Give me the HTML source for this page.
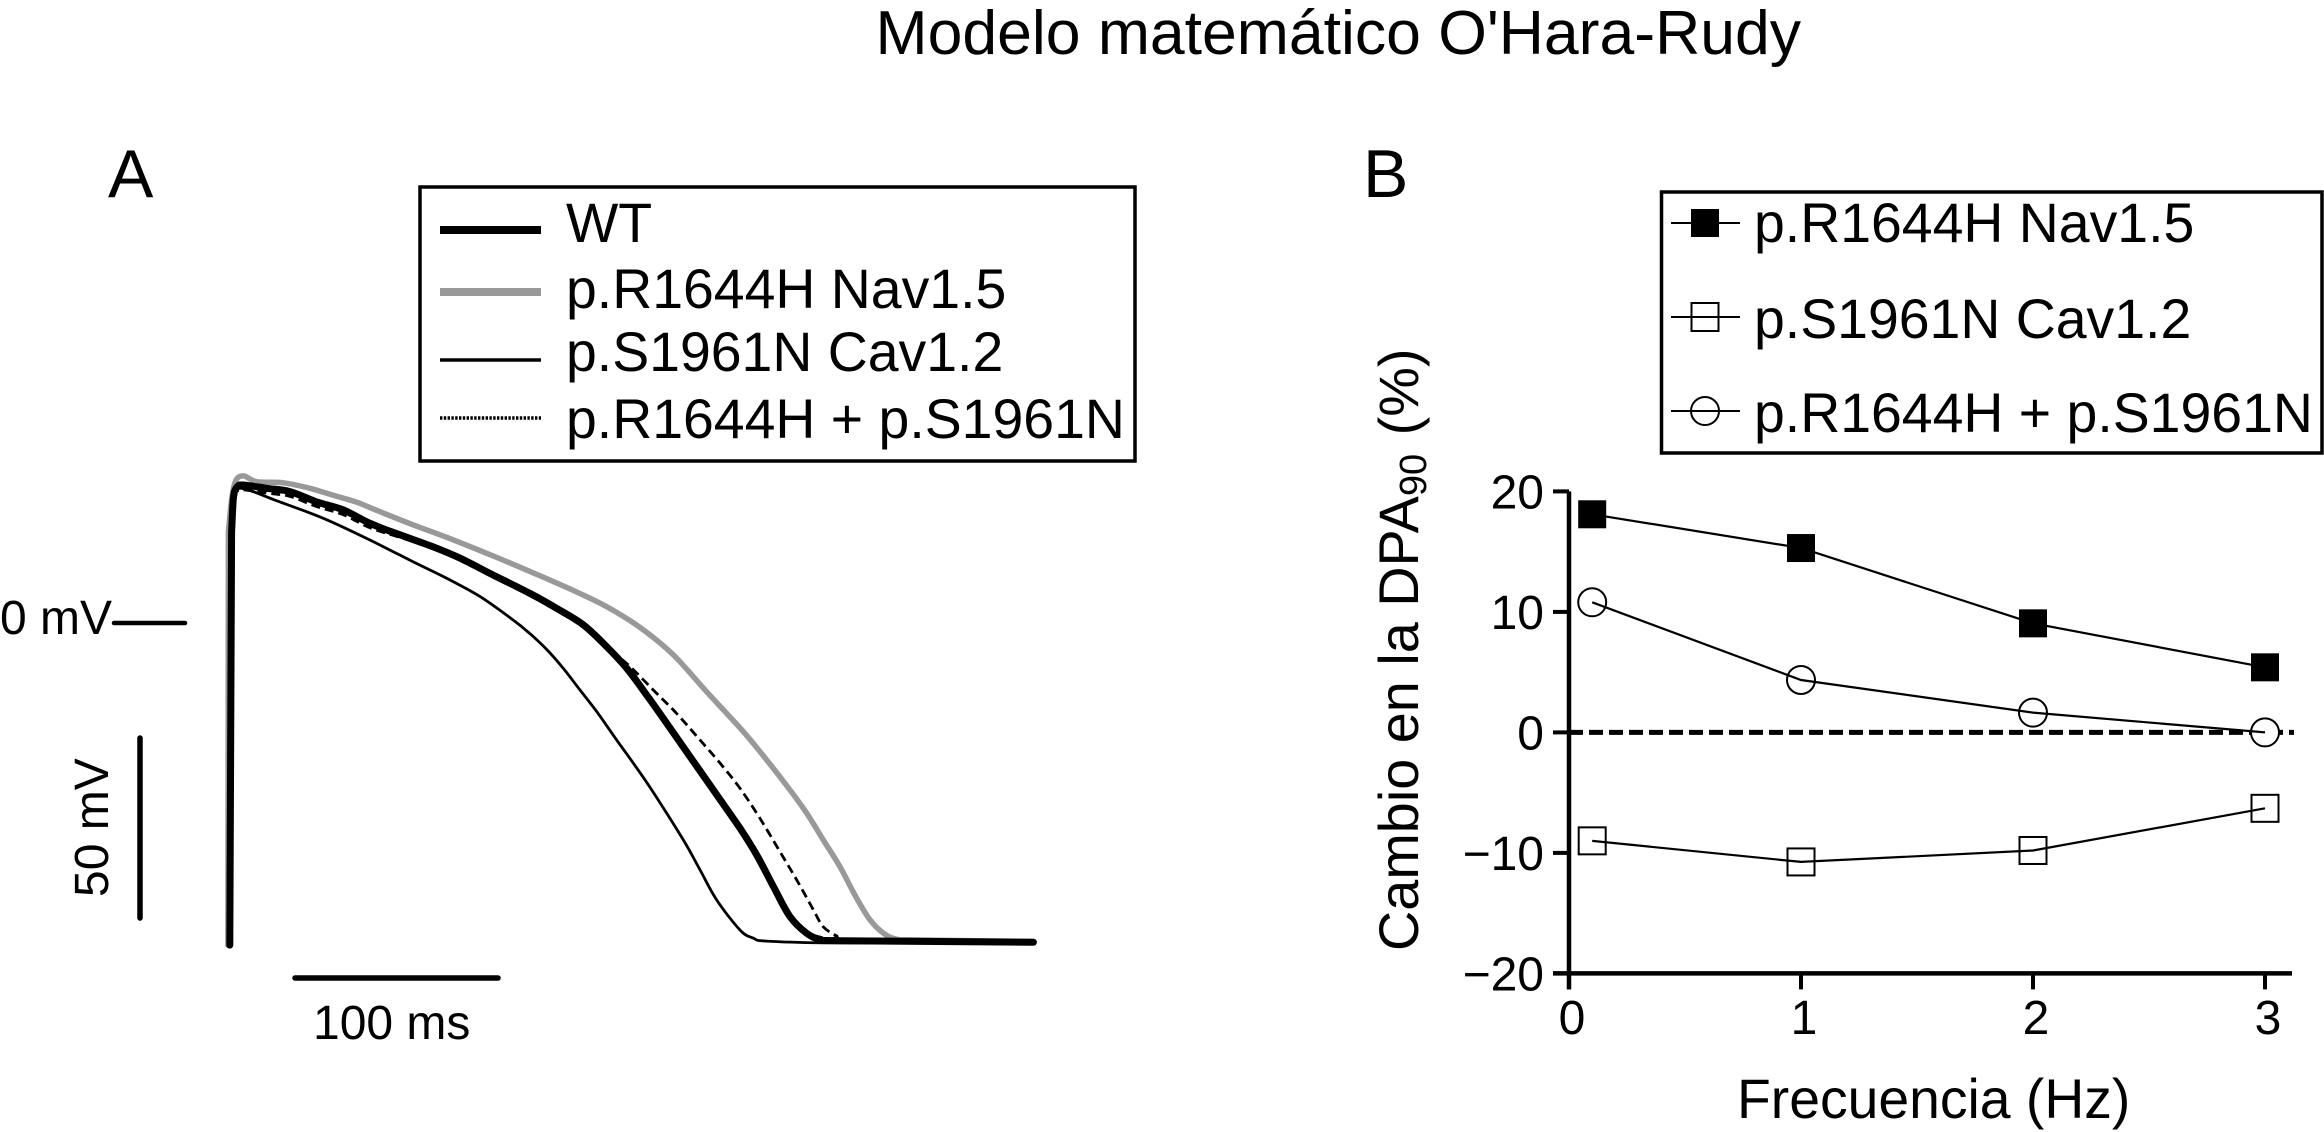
<!DOCTYPE html>
<html lang="es">
<head>
<meta charset="utf-8">
<title>Modelo matemático O'Hara-Rudy</title>
<style>
  html, body { margin: 0; padding: 0; background: #fff; }
  body { width: 2324px; height: 1132px; overflow: hidden; }
  svg { display: block; }
  text { font-family: "Liberation Sans", Arial, sans-serif; fill: #000; }
</style>
</head>
<body>
<svg id="figure" xmlns="http://www.w3.org/2000/svg" width="2324" height="1132" viewBox="0 0 2324 1132">
  <rect x="0" y="0" width="2324" height="1132" fill="#ffffff"/>
  <text x="875.5" y="54" font-size="62.5">Modelo matemático O'Hara-Rudy</text>
  <text x="108" y="197" font-size="68">A</text>
  <text x="1363" y="197" font-size="68">B</text>

  <g id="panel-a"></g>

  <g>
    <text x="0" y="634" font-size="48">0 mV</text>
    <line x1="114" y1="623" x2="185" y2="623" stroke="#000" stroke-width="4.5" stroke-linecap="round"/>
    <line x1="140" y1="738" x2="140" y2="918" stroke="#000" stroke-width="5.5" stroke-linecap="round"/>
    <text transform="translate(108 897) rotate(-90)" font-size="48">50 mV</text>
    <line x1="295" y1="978" x2="498" y2="978" stroke="#000" stroke-width="5.5" stroke-linecap="round"/>
    <text x="313" y="1039" font-size="48">100 ms</text>
  </g>

  <g>
    <rect x="420" y="187" width="715" height="274" fill="#fff" stroke="#000" stroke-width="3.5"/>
    <line x1="440" y1="230" x2="541" y2="230" stroke="#000" stroke-width="8"/>
    <text x="566" y="242" font-size="55.4">WT</text>
    <line x1="440" y1="292" x2="541" y2="292" stroke="#999" stroke-width="8"/>
    <text x="566" y="308" font-size="55.4">p.R1644H Nav1.5</text>
    <line x1="440" y1="360" x2="541" y2="360" stroke="#000" stroke-width="3.5"/>
    <text x="566" y="371" font-size="55.4">p.S1961N Cav1.2</text>
    <line x1="440" y1="418" x2="541" y2="418" stroke="#000" stroke-width="3.5" stroke-dasharray="2.4 1.4"/>
    <text x="566" y="438" font-size="55.4">p.R1644H + p.S1961N</text>
  </g>

  <g>
    <rect x="1661.5" y="192" width="660.5" height="261" fill="#fff" stroke="#000" stroke-width="3.5"/>
    <rect x="1691" y="209" width="28" height="28" fill="#000"/>
    <line x1="1671" y1="223" x2="1740" y2="223" stroke="#000" stroke-width="2"/>
    <text x="1754" y="242" font-size="55.4">p.R1644H Nav1.5</text>
    <rect x="1691.5" y="303" width="27" height="28" fill="#fff" stroke="#000" stroke-width="2"/>
    <line x1="1671" y1="317" x2="1740" y2="317" stroke="#000" stroke-width="2"/>
    <text x="1754" y="338" font-size="55.4">p.S1961N Cav1.2</text>
    <circle cx="1705" cy="411" r="14" fill="#fff" stroke="#000" stroke-width="2"/>
    <line x1="1671" y1="411" x2="1740" y2="411" stroke="#000" stroke-width="2"/>
    <text x="1754" y="432" font-size="55.4">p.R1644H + p.S1961N</text>
  </g>

  <g id="panel-b"></g>

  <text x="1737" y="1118" font-size="55.3">Frecuencia (Hz)</text>
  <text transform="translate(1418 951) rotate(-90)" font-size="55.8">Cambio en la DPA<tspan font-size="38" dy="8">90</tspan><tspan dy="-8" dx="3"> (%)</tspan></text>
</svg>

<script>
// Panel A: action potentials (time in ms, voltage in mV)
var navTimes = [-1, -0.8, 0.7, 2.6, 6.5, 13, 25.9, 38.8, 50.1, 61.5, 72.8, 89, 108.4, 127.8, 147.2, 166.6, 183, 199, 215.2, 231.4, 249.2, 260.5, 271.8, 280, 288, 296.1, 304.2, 310.7, 317.1, 323.6, 335, 390];
var navVolts = [-88, 25, 33.3, 38.7, 40.2, 38.6, 38.3, 36.8, 34.9, 33, 30.4, 26.8, 22.7, 18.3, 13.7, 8.9, 4.4, -1.2, -8.7, -18.8, -29.7, -37.4, -45.6, -52, -59.3, -66.6, -75.2, -81.1, -84.7, -86.4, -86.6, -87];
var wtTimes = [-0.1, 0.8, 1.7, 3.5, 6.5, 17.8, 29.1, 42.1, 55, 68, 82.5, 98.7, 111.7, 127.8, 145.6, 158.6, 171.5, 182.9, 192.6, 202.3, 212, 223.3, 234.6, 247.6, 255.7, 263.8, 271.8, 280, 286.4, 296.1, 390];
var wtVolts = [-88, 25, 34.4, 37.2, 37.7, 36.8, 35.9, 33.1, 30.9, 27.2, 24.1, 20.8, 17.7, 13.1, 8.1, 4, -0.5, -6.5, -12.4, -19.7, -27.4, -36.5, -45.6, -56.1, -63.4, -72, -80.2, -84.8, -86.4, -86.8, -87.2];
var combinedTimes = [-0.1, 0.8, 1.7, 3.5, 6.5, 17.8, 29.1, 42.1, 55, 68, 82.5, 98.7, 111.7, 127.8, 145.6, 158.6, 171.5, 182.9, 194.2, 205.5, 216.8, 228.2, 237.9, 247.6, 257.3, 267, 275.1, 283.2, 288, 294.5, 301, 390];
var combinedVolts = [-88, 25, 34, 36, 36.4, 35.5, 34.6, 31.8, 29.6, 26, 23.4, 20.5, 17.7, 13.1, 8.1, 4, -0.5, -6.5, -11.9, -18.3, -24.7, -32, -38.3, -45.2, -53.4, -62.5, -70.2, -78.4, -83, -85.5, -86.8, -87.2];
var cavTimes = [0, 0.9, 2.6, 5.7, 22.7, 45.3, 66.4, 89, 105.2, 121.4, 137.5, 145.6, 153.7, 161.8, 169.9, 178, 187.7, 195.8, 204.7, 220.1, 228.2, 236.3, 247.6, 254, 260.5, 292.8, 390];
var cavVolts = [-88, 25, 34.4, 36.8, 33.4, 28.6, 23.1, 16.7, 12.2, 7.2, 0.8, -2.9, -7.2, -12.4, -18.3, -24.2, -32, -38.3, -45.6, -59.3, -67.5, -75.7, -83.9, -86.1, -86.9, -87.4, -87.4];

// Panel B: change in APD90 (%) against pacing frequency (Hz)
var frequencies = [0.1, 1, 2, 3];
var navChange = [18.1, 15.3, 9.05, 5.4];
var cavChange = [-9, -10.75, -9.8, -6.3];
var combinedChange = [10.8, 4.35, 1.64, 0];
var yTickValues = [20, 10, 0, -10, -20];
var yTickLabels = ['20', '10', '0', '\u221210', '\u221220'];
var xTickValues = [0, 1, 2, 3];
var xTickLabels = ['0', '1', '2', '3'];

var SVG_NS = 'http://www.w3.org/2000/svg';

function timeToX(t) { return 230 + 2.06 * t; }
function voltToY(v) { return 623 - 3.66 * v; }
function freqToX(f) { return 1569 + 232 * f; }
function changeToY(c) { return 732.4 - 12.05 * c; }

function make(tag, attrs) {
  var el = document.createElementNS(SVG_NS, tag);
  Object.keys(attrs).forEach(function (k) { el.setAttribute(k, attrs[k]); });
  return el;
}

function pointsFrom(xs, ys, fx, fy) {
  return xs.map(function (x, i) { return fx(x).toFixed(1) + ',' + fy(ys[i]).toFixed(1); }).join(' ');
}

// Straight upstroke, then a smooth spline through the read values.
function smoothPath(times, volts) {
  var px = times.map(timeToX);
  var py = volts.map(voltToY);
  var d = 'M' + px[0].toFixed(1) + ' ' + py[0].toFixed(1) + ' L' + px[1].toFixed(1) + ' ' + py[1].toFixed(1);
  for (var i = 1; i < px.length - 1; i++) {
    var i0 = Math.max(i - 1, 1);
    var i3 = Math.min(i + 2, px.length - 1);
    var c1x = px[i] + (px[i + 1] - px[i0]) / 6;
    var c1y = py[i] + (py[i + 1] - py[i0]) / 6;
    var c2x = px[i + 1] - (px[i3] - px[i]) / 6;
    var c2y = py[i + 1] - (py[i3] - py[i]) / 6;
    d += ' C' + c1x.toFixed(1) + ' ' + c1y.toFixed(1) + ' ' + c2x.toFixed(1) + ' ' + c2y.toFixed(1) + ' ' + px[i + 1].toFixed(1) + ' ' + py[i + 1].toFixed(1);
  }
  return d;
}

var panelA = document.getElementById('panel-a');
var panelB = document.getElementById('panel-b');

function drawTrace(name, times, volts, color, width, dash) {
  var el = make('path', {
    d: smoothPath(times, volts),
    fill: 'none',
    stroke: color,
    'stroke-width': width,
    'stroke-linejoin': 'round',
    'stroke-linecap': 'round'
  });
  if (dash) { el.setAttribute('stroke-dasharray', dash); el.setAttribute('stroke-linecap', 'butt'); }
  
  
  panelA.appendChild(el);
}

drawTrace('trace-nav', navTimes, navVolts, '#999999', 5.5);
drawTrace('trace-wt', wtTimes, wtVolts, '#000000', 7);
drawTrace('trace-combined', combinedTimes, combinedVolts, '#000000', 2.8, '9 5');
drawTrace('trace-cav', cavTimes, cavVolts, '#000000', 2.8);

// Panel B axes
var yAxisLine = make('line', { x1: freqToX(0), y1: changeToY(20), x2: freqToX(0), y2: changeToY(-20) + 16, stroke: '#000', 'stroke-width': 4.5 });


panelB.appendChild(yAxisLine);

var xAxisLine = make('line', { x1: freqToX(0) - 16, y1: changeToY(-20), x2: 2292, y2: changeToY(-20), stroke: '#000', 'stroke-width': 4.5 });


panelB.appendChild(xAxisLine);

yTickValues.forEach(function (v, i) {
  var tick = make('line', { x1: freqToX(0) - 16, y1: changeToY(v), x2: freqToX(0), y2: changeToY(v), stroke: '#000', 'stroke-width': 4 });
  
  
  panelB.appendChild(tick);
  var label = make('text', { x: 1544, y: changeToY(v) + 17, 'font-size': 48, 'text-anchor': 'end' });
  label.textContent = yTickLabels[i];
  
  
  panelB.appendChild(label);
});

xTickValues.forEach(function (v, i) {
  var tick = make('line', { x1: freqToX(v), y1: changeToY(-20), x2: freqToX(v), y2: changeToY(-20) + 16, stroke: '#000', 'stroke-width': 4 });
  
  
  panelB.appendChild(tick);
  var label = make('text', { x: freqToX(v) + 3, y: 1034, 'font-size': 48, 'text-anchor': 'middle' });
  label.textContent = xTickLabels[i];
  
  
  panelB.appendChild(label);
});

var zeroLine = make('line', { x1: freqToX(0), y1: changeToY(0), x2: 2294, y2: changeToY(0), stroke: '#000', 'stroke-width': 5, 'stroke-dasharray': '14 6' });


panelB.appendChild(zeroLine);

function drawSeries(name, values, shape) {
  values.forEach(function (c, i) {
    var cx = freqToX(frequencies[i]);
    var cy = changeToY(c);
    var m;
    if (shape === 'filled') {
      m = make('rect', { x: cx - 14, y: cy - 14, width: 28, height: 28, fill: '#000' });
    } else if (shape === 'open') {
      m = make('rect', { x: cx - 13.5, y: cy - 13.5, width: 27, height: 27, fill: '#fff', stroke: '#000', 'stroke-width': 2 });
    } else {
      m = make('circle', { cx: cx, cy: cy, r: 14, fill: '#fff', stroke: '#000', 'stroke-width': 2 });
    }
    
    
    panelB.appendChild(m);
  });
  var line = make('polyline', {
    points: pointsFrom(frequencies, values, freqToX, changeToY),
    fill: 'none',
    stroke: '#000',
    'stroke-width': 2.2
  });
  
  
  panelB.appendChild(line);
}

drawSeries('combined', combinedChange, 'circle');
drawSeries('cav', cavChange, 'open');
drawSeries('nav', navChange, 'filled');
</script>
</body>
</html>
